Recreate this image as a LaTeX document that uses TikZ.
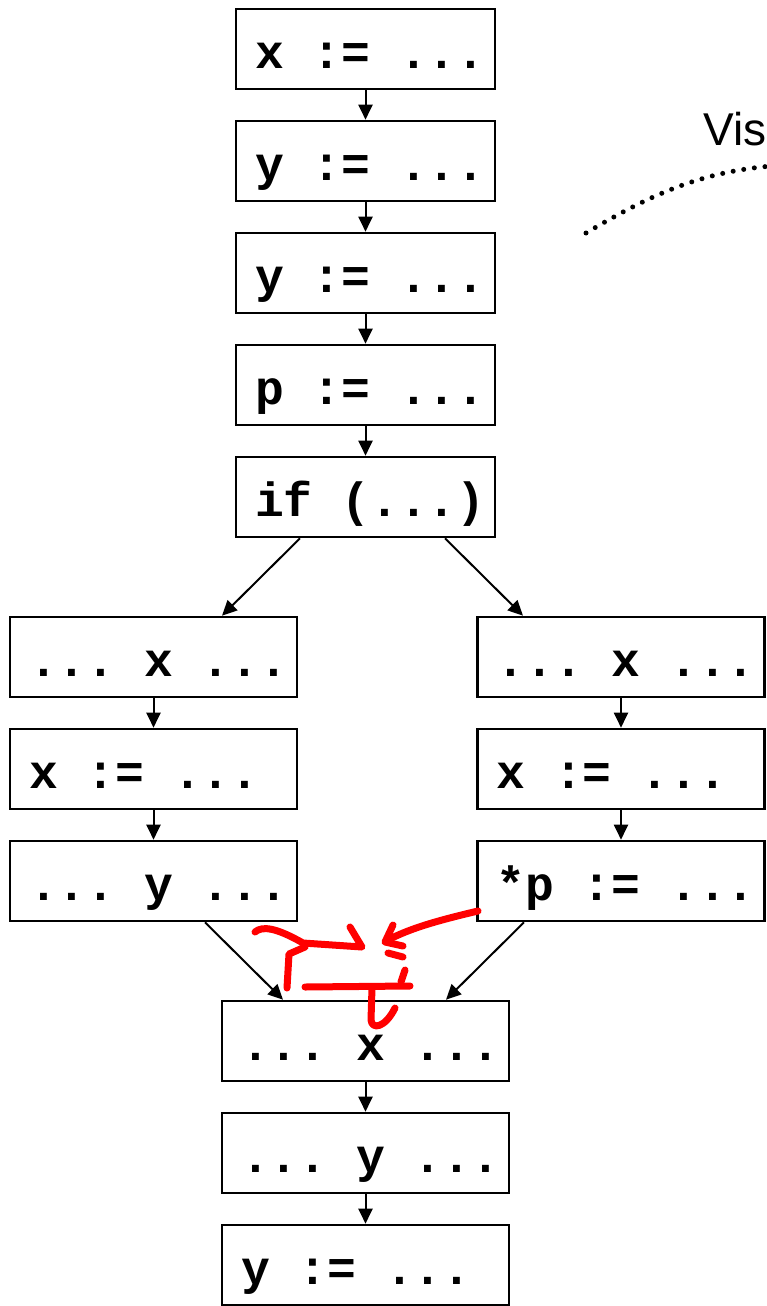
\documentclass[tikz,border=0pt]{standalone}
\usepackage{fontspec}
\setmainfont{Liberation Sans}
\newfontfamily\codefont{Liberation Mono}
\newcommand\codesize{\codefont\bfseries\fontsize{48}{50}\selectfont}
\newcommand\codeline[1]{\rlap{\spaceskip=0.6em\xspaceskip=0.6em\relax #1}}
\usetikzlibrary{arrows.meta,calc}
\tikzset{
  codebox/.style={draw, line width=2.6pt, minimum height=80pt, inner xsep=19pt, inner ysep=0pt,
    align=left, font=\codesize, text height=43pt, text depth=5pt},
  topw/.style={codebox, text width=221pt},
  sidew/.style={codebox, text width=249pt},
  flow/.style={line width=2pt, -{Triangle[length=15pt,width=14pt]}},
  redink/.style={draw=red, line width=7pt, line cap=round, line join=round},
  dots/.style={line width=5pt, line cap=round, dash pattern=on 0pt off 10.7pt}
}
\begin{document}
\begin{tikzpicture}[x=1pt,y=-1pt]
\useasboundingbox (0,0) rectangle (766,1306);
% top column
\node[topw] (t1) at (365.5,49) {\codeline{x := ...}};
\node[topw] (t2) at (365.5,161) {\codeline{y := ...}};
\node[topw] (t3) at (365.5,273) {\codeline{y := ...}};
\node[topw] (t4) at (365.5,385) {\codeline{p := ...}};
\node[topw] (if) at (365.5,497) {\codeline{if (...)}};
% left column
\node[sidew] (l1) at (153.5,657) {\codeline{... x ...}};
\node[sidew] (l2) at (153.5,769) {\codeline{x := ...}};
\node[sidew] (l3) at (153.5,881) {\codeline{... y ...}};
% right column
\node[sidew] (r1) at (621,657) {\codeline{... x ...}};
\node[sidew] (r2) at (621,769) {\codeline{x := ...}};
\node[sidew] (r3) at (621,881) {\codeline{*p := ...}};
% bottom column
\node[sidew] (b1) at (365.5,1041) {\codeline{... x ...}};
\node[sidew] (b2) at (365.5,1153) {\codeline{... y ...}};
\node[sidew] (b3) at (365.5,1265) {\codeline{y := ...}};
% vertical arrows
\draw[flow] (t1.south) -- (t2.north);
\draw[flow] (t2.south) -- (t3.north);
\draw[flow] (t3.south) -- (t4.north);
\draw[flow] (t4.south) -- (if.north);
\draw[flow] (l1.south) -- (l2.north);
\draw[flow] (l2.south) -- (l3.north);
\draw[flow] (r1.south) -- (r2.north);
\draw[flow] (r2.south) -- (r3.north);
\draw[flow] (b1.south) -- (b2.north);
\draw[flow] (b2.south) -- (b3.north);
% diagonal arrows
\draw[flow] ($(if.south)+(-65.5,0)$) -- ($(l1.north)+(68.5,0)$);
\draw[flow] ($(if.south)+(79.5,0)$) -- ($(r1.north)+(-98,0)$);
\draw[flow] ($(l3.south)+(51.5,0)$) -- ($(b1.north)+(-82.5,0)$);
\draw[flow] ($(r3.south)+(-97,0)$) -- ($(b1.north)+(80.5,0)$);
% label and dotted curve
\node[anchor=base west, font=\fontsize{46}{50}\selectfont, inner sep=0pt] (vis) at (703,145) {Vis};
\coordinate (ds) at (586,233);
\coordinate (de) at (772,166);
\draw[dots] (ds) .. controls (650,195) and (700,172) .. (de);
% red annotation
\draw[redink] (255,932) .. controls (262,926) and (275,927) .. (303,943) -- (362,947) -- (350,927);
\draw[redink] (287,988) -- (289,954) -- (305,947);
\draw[redink] (305,987) -- (410,986);
\draw[redink] (372,988) -- (371,1020) .. controls (372,1030) and (385,1028) .. (395,1008);
\draw[redink] (478,911) .. controls (440,920) and (410,928) .. (386,941);
\draw[redink] (393,925) -- (385,942) -- (403,946);
\draw[redink] (388,953) -- (403,957);
\draw[redink] (405,970) -- (401,982);
\end{tikzpicture}
\end{document}
